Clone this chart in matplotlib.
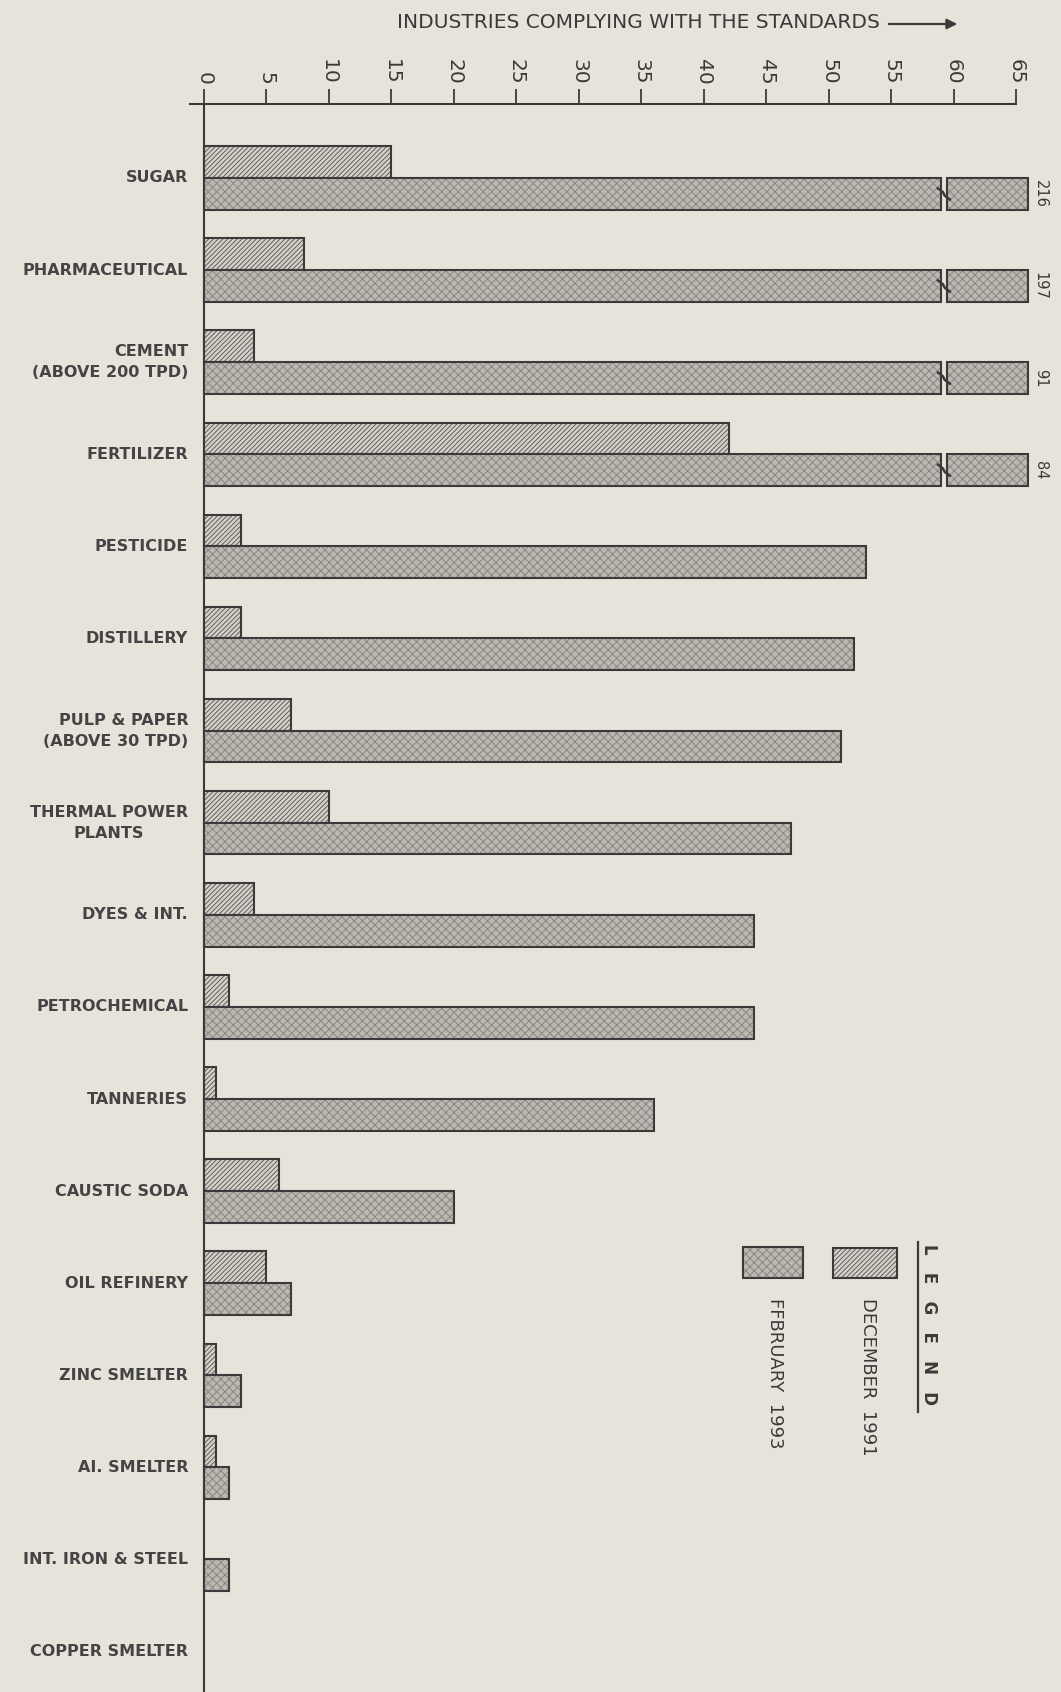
import matplotlib.pyplot as plt
from matplotlib.patches import Rectangle
from matplotlib.lines import Line2D
import numpy as np

industries = ["SUGAR", "PHARMACEUTICAL", "CEMENT\n(ABOVE 200 TPD)", "FERTILIZER",
              "PESTICIDE", "DISTILLERY", "PULP & PAPER\n(ABOVE 30 TPD)",
              "THERMAL POWER\nPLANTS", "DYES & INT.", "PETROCHEMICAL", "TANNERIES",
              "CAUSTIC SODA", "OIL REFINERY", "ZINC SMELTER", "AI. SMELTER",
              "INT. IRON & STEEL", "COPPER SMELTER"]
dec_1991 = [15, 8, 4, 42, 3, 3, 7, 10, 4, 2, 1, 6, 5, 1, 1, 0, 0]
feb_1993 = [216, 197, 91, 84, 53, 52, 51, 47, 44, 44, 36, 20, 7, 3, 2, 2, 0]
x_ticks = list(range(0, 70, 5))

W, H = 1061, 1692
BG = "#e8e3da"
INK = "#3a3a3a"
AXIS_MAX = 65
OFFSCALE_END = 66      # where off-scale bars are cut
BREAK_AT = 59          # axis break drawn in off-scale bars

plt.rcParams["font.family"] = "DejaVu Sans"
plt.rcParams["hatch.linewidth"] = 0.7

fig = plt.figure(figsize=(W / 100, H / 100), dpi=100, facecolor=BG)
ax = fig.add_axes([190 / W, 0, (1016 - 190) / W, 1 - 104 / H])
ax.set_facecolor("none")
ax.set_xlim(-1.1, AXIS_MAX)
ax.set_ylim((H - 178) / 92.1, (104 - 178) / 92.1)

ax.spines["right"].set_visible(False)
ax.spines["bottom"].set_visible(False)
ax.spines["left"].set_position(("data", 0))
for s in ["left", "top"]:
    ax.spines[s].set_linewidth(1.5)
    ax.spines[s].set_color(INK)

ax.xaxis.tick_top()
ax.set_xticks(x_ticks)
ax.set_xticklabels([str(t) for t in x_ticks])
ax.tick_params(axis="x", length=11, width=1.3, color=INK, labelcolor=INK,
               labelsize=14.5, labelrotation=-90, pad=3)
ax.tick_params(axis="y", left=False, labelleft=False)

h = 0.345
y = np.arange(len(industries))
FEB_FACE, FEB_HATCH = "#bdb9b2", "#8a8681"
DEC_FACE, DEC_HATCH = "#d6d1c8", "#5e5e5e"


def hatched(yc, left, width, face, hcol, hatch):
    ax.barh(yc, width, h, left=left, color=face, edgecolor=hcol, hatch=hatch,
            lw=0, clip_on=False)
    ax.barh(yc, width, h, left=left, color="none", edgecolor=INK, lw=1.5,
            clip_on=False)


for i, (d, f) in enumerate(zip(dec_1991, feb_1993)):
    if d > 0:
        hatched(y[i] - h / 2, 0, d, DEC_FACE, DEC_HATCH, "///////")
    if f > AXIS_MAX:
        yc = y[i] + h / 2
        hatched(yc, 0, BREAK_AT, FEB_FACE, FEB_HATCH, "xxxx")
        hatched(yc, BREAK_AT + 0.45, OFFSCALE_END - BREAK_AT - 0.45,
                FEB_FACE, FEB_HATCH, "xxxx")
        ax.plot([BREAK_AT - 0.25, BREAK_AT + 0.15, BREAK_AT + 0.3, BREAK_AT + 0.7],
                [yc - 0.06, yc - 0.02, yc + 0.02, yc + 0.06],
                color=INK, lw=1.8, clip_on=False)
        ax.text(OFFSCALE_END + 0.35, yc, str(f), rotation=-90, ha="left", va="center",
                fontsize=10.5, color=INK)
    elif f > 0:
        hatched(y[i] + h / 2, 0, f, FEB_FACE, FEB_HATCH, "xxxx")

for i, name in enumerate(industries):
    ax.text(-1.25, y[i], name, ha="right", va="center", fontsize=11.5,
            fontweight="bold", color="#444444", linespacing=1.5,
            multialignment="center" if "PLANTS" in name else "right")

# title with arrow
fig.text(397 / W, 1 - 23 / H, "INDUSTRIES COMPLYING WITH THE STANDARDS",
         ha="left", va="center", fontsize=14.5, color=INK)
ax.annotate("", xy=(960 / W, 1 - 24 / H), xytext=(886 / W, 1 - 24 / H),
            xycoords="figure fraction", textcoords="figure fraction",
            arrowprops=dict(arrowstyle="-|>", lw=1.6, color=INK, mutation_scale=15))


# legend
def fig_rect(x0, y0, x1, y1, face, hcol, hatch):
    fig.add_artist(Rectangle((x0 / W, 1 - y1 / H), (x1 - x0) / W, (y1 - y0) / H,
                             transform=fig.transFigure, facecolor=face,
                             edgecolor=hcol, hatch=hatch, lw=0))
    fig.add_artist(Rectangle((x0 / W, 1 - y1 / H), (x1 - x0) / W, (y1 - y0) / H,
                             transform=fig.transFigure, facecolor="none",
                             edgecolor=INK, lw=1.5))


fig_rect(833, 1248, 897, 1278, DEC_FACE, DEC_HATCH, "///////")
fig_rect(743, 1247, 803, 1278, FEB_FACE, FEB_HATCH, "xxxx")

fig.text(929 / W, 1 - 1244 / H, "L   E   G   E   N   D", rotation=-90, ha="center",
         va="top", fontsize=12, fontweight="bold", color=INK)
fig.add_artist(Line2D([918 / W, 918 / W], [1 - 1242 / H, 1 - 1412 / H],
                      transform=fig.transFigure, color=INK, lw=1.6))
fig.text(868 / W, 1 - 1298 / H, "DECEMBER  1991", rotation=-90, ha="center", va="top",
         fontsize=13, color=INK)
fig.text(775 / W, 1 - 1298 / H, "FFBRUARY  1993", rotation=-90, ha="center", va="top",
         fontsize=13, color=INK)

plt.savefig("out.png", dpi=100, facecolor=BG)
